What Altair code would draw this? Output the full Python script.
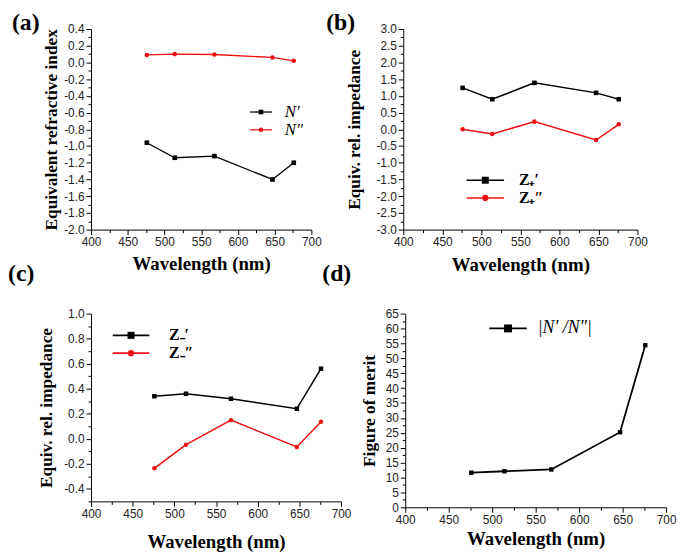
import altair as alt
import pandas as pd

# ---------------- data ----------------
wavelength = [476, 514, 568, 647, 676]

n_real = [-0.96, -1.14, -1.12, -1.40, -1.20]
n_imag = [0.09, 0.10, 0.095, 0.06, 0.02]

zp_real = [1.24, 0.90, 1.39, 1.09, 0.90]
zp_imag = [0.00, -0.14, 0.23, -0.32, 0.15]

zm_real = [0.34, 0.36, 0.32, 0.24, 0.56]
zm_imag = [-0.236, -0.047, 0.149, -0.065, 0.136]

fom = [11.6, 12.1, 12.7, 25.2, 54.4]

names_a = ["N\u2032", "N\u2033"]
names_b = ["Z\u208a\u2032", "Z\u208a\u2033"]
names_c = ["Z\u208b\u2032", "Z\u208b\u2033"]
names_d = ["|N\u2032 /N\u2033|"]

panel_labels = ["(a)", "(b)", "(c)", "(d)"]

BLACK = "#000000"
RED = "#ee1111"


def ticks(lo, hi, step):
    n = int(round((hi - lo) / step))
    return [round(lo + i * step, 4) for i in range(n + 1)]


def axis(title, vals, major, fmt, title_size, title_pad):
    test = f"abs(round(datum.value/{major})*{major} - datum.value) < 1e-6"
    return alt.Axis(
        title=title,
        values=vals,
        format=fmt,
        labelExpr=f"{test} ? replace(datum.label, '\u2212', '-') : ''",
        tickSize={"condition": {"test": test, "value": 5}, "value": 3},
        labelOverlap=False,
        labelFlush=False,
        grid=False,
        titleFontSize=title_size,
        titlePadding=title_pad,
    )


def legend_layers(names, colors, shapes, sizes, line_w, x0, x1, ys, tx,
                  font_size, font_style, font_weight):
    out = []
    one = pd.DataFrame({"k": [0]})
    for name, col, shp, sz, yy in zip(names, colors, shapes, sizes, ys):
        base = alt.Chart(one)
        out.append(base.mark_rule(color=col, strokeWidth=line_w).encode(
            x=alt.value(x0), x2=alt.value(x1), y=alt.value(yy)))
        out.append(base.mark_point(filled=True, shape=shp, size=sz, color=col, opacity=1).encode(
            x=alt.value((x0 + x1) / 2), y=alt.value(yy)))
        out.append(base.mark_text(
            text=name, align="left", baseline="middle", font="Liberation Serif",
            fontSize=font_size, fontStyle=font_style, fontWeight=font_weight, color="black",
        ).encode(x=alt.value(tx), y=alt.value(yy)))
    return out


def panel(label, lab_x, lab_y, names, series, colors, shapes, sizes,
          ydom, ymajor, yminor, yfmt, ytitle, ytitle_pad, xtitle_pad, w, h, line_w, leg):
    rows = []
    for name, vals in zip(names, series):
        for x, v in zip(wavelength, vals):
            rows.append({"wl": x, "v": v, "s": name})
    df = pd.DataFrame(rows)

    xenc = alt.X("wl:Q", scale=alt.Scale(domain=[400, 700], nice=False, zero=False),
                 axis=axis("Wavelength (nm)", ticks(400, 700, 25), 50, "d", 19, xtitle_pad))
    yenc = alt.Y("v:Q", scale=alt.Scale(domain=ydom, nice=False, zero=False),
                 axis=axis(ytitle, ticks(ydom[0], ydom[1], yminor), ymajor, yfmt, 17.5, ytitle_pad))

    lines = alt.Chart(df).mark_line(strokeWidth=line_w).encode(
        x=xenc, y=yenc,
        color=alt.Color("s:N", scale=alt.Scale(domain=names, range=colors), legend=None),
    )
    pts = alt.Chart(df).mark_point(filled=True, opacity=1).encode(
        x=xenc, y=yenc,
        color=alt.Color("s:N", scale=alt.Scale(domain=names, range=colors), legend=None),
        shape=alt.Shape("s:N", scale=alt.Scale(domain=names, range=shapes), legend=None),
        size=alt.Size("s:N", scale=alt.Scale(domain=names, range=sizes), legend=None),
    )
    tag = alt.Chart(pd.DataFrame({"k": [0]})).mark_text(
        text=label, align="left", baseline="top", font="Liberation Serif",
        fontSize=24, fontWeight="bold", color="black",
    ).encode(x=alt.value(lab_x), y=alt.value(lab_y))
    layers = [lines, pts] + legend_layers(names, colors, shapes, **leg) + [tag]
    return alt.layer(*layers).properties(width=w, height=h)


pa = panel(panel_labels[0], -80, -18, names_a, [n_real, n_imag], [BLACK, RED],
           ["square", "circle"], [22, 20], [-2.0, 0.4], 0.2, 0.1, ".1f",
           "Equivalent refractive index", 3, 7, 223, 203, 1.3,
           dict(sizes=[22, 20], line_w=1.3, x0=161, x1=183, ys=[84, 102], tx=196,
                font_size=17, font_style="italic", font_weight="normal"))
pb = panel(panel_labels[1], -78, -18, names_b, [zp_real, zp_imag], [BLACK, RED],
           ["square", "circle"], [30, 28], [-3.0, 3.0], 0.5, 0.25, ".1f",
           "Equiv. rel. impedance", 13, 8, 237, 203, 1.5,
           dict(sizes=[50, 40], line_w=1.6, x0=64, x1=102, ys=[153, 171], tx=117,
                font_size=16, font_style="normal", font_weight="bold"))
pc = panel(panel_labels[2], -84, -52, names_c, [zm_real, zm_imag], [BLACK, RED],
           ["square", "circle"], [28, 26], [-0.5, 1.0], 0.2, 0.1, ".1f",
           "Equiv. rel. impedance", 8, 14, 253, 190, 1.5,
           dict(sizes=[50, 40], line_w=1.6, x0=22, x1=59, ys=[22, 40], tx=79,
                font_size=16, font_style="normal", font_weight="bold"))
pd_ = panel(panel_labels[3], -84, -52, names_d, [fom], [BLACK],
            ["square"], [64], [0, 65], 5, 2.5, "d",
            "Figure of merit", 7, 5, 264, 196, 1.8,
            dict(sizes=[64], line_w=1.8, x0=85, x1=123, ys=[15], tx=134,
                 font_size=18, font_style="italic", font_weight="normal"))

row1 = alt.hconcat(pa, pb, spacing=93, bounds="flush")
row2 = alt.hconcat(pc, pd_, spacing=65, bounds="flush")

chart = alt.vconcat(row1, row2, spacing=-12).properties(
    padding=0, background="white"
).configure_view(stroke=None).configure_axis(
    domainColor="black", tickColor="black", labelColor="#222222",
    labelFont="Liberation Sans", labelFontSize=12, labelPadding=2,
    titleFont="Liberation Serif", titleFontWeight="bold", titleColor="black",
    domainWidth=1, tickWidth=1,
)

chart.save("out.html", embed_options={"renderer": "svg", "actions": False})
